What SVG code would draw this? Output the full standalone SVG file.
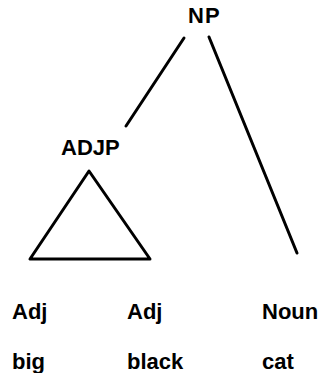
<svg xmlns="http://www.w3.org/2000/svg" width="322" height="373" viewBox="0 0 322 373">
<style>
text{font-family:"Liberation Sans",Arial,sans-serif;font-weight:bold;font-size:22px;fill:#000}
.c{stroke:#000;stroke-width:3;fill:none;stroke-linecap:round;stroke-linejoin:round}
</style>
<rect width="322" height="373" fill="#fff"/>
<g id="connectors">
<line class="c" x1="184" y1="38" x2="126" y2="126"/>
<line class="c" x1="209" y1="37" x2="297" y2="253"/>
<polygon class="c" points="89,171 30,259 150,259"/>
</g>
<g id="NP"><text x="188" y="23" letter-spacing="1">NP</text></g>
<g id="ADJP"><text x="61" y="155">ADJP</text></g>
<g id="Adj1"><text x="12" y="319">Adj</text></g>
<g id="Adj2"><text x="127" y="319">Adj</text></g>
<g id="Noun"><text x="262" y="319">Noun</text></g>
<g id="big"><text x="12" y="369">big</text></g>
<g id="black"><text x="127" y="369">black</text></g>
<g id="cat"><text x="262" y="369">cat</text></g>
</svg>
